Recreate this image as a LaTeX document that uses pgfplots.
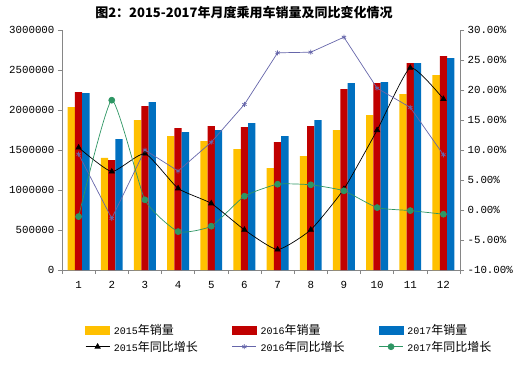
\documentclass[border=0pt]{standalone}
\usepackage{fontspec}
\setmainfont{Noto Sans CJK SC}
\newfontfamily\tickfont{Liberation Mono}
\usepackage{pgfplots}
\pgfplotsset{compat=1.18}
\definecolor{c15}{RGB}{255,192,0}
\definecolor{c16}{RGB}{192,0,0}
\definecolor{c17}{RGB}{0,112,192}
\definecolor{l16}{RGB}{102,102,170}
\definecolor{l17}{RGB}{46,150,100}
\definecolor{axg}{RGB}{134,134,134}
\newcommand{\lgt}[2]{{\fontsize{10}{12}\tickfont #1}{\fontsize{12}{14}\selectfont #2}}
\begin{document}
\begin{tikzpicture}
\pgfplotsset{
  base/.style={
    width=398pt, height=240pt, scale only axis,
    xmin=0.5, xmax=12.5,
    tick align=outside, major tick length=4pt,
    every tick/.style={axg, line width=0.6pt},
    axis line style={axg, line width=0.8pt},
    tick label style={font=\fontsize{10.8}{12}\tickfont},
    /pgf/number format/assume math mode=true,
  }
}
\begin{axis}[base, name=ax1,
  ymin=0, ymax=3000000,
  ytick={0,500000,1000000,1500000,2000000,2500000,3000000},
  scaled y ticks=false,
  yticklabel style={/pgf/number format/fixed, /pgf/number format/1000 sep={}},
  axis x line*=bottom, axis y line*=left,
  xtick={0.5,1.5,...,12.5}, x tick label as interval,
  xticklabels={1,2,3,4,5,6,7,8,9,10,11,12},
  xticklabel style={yshift=-4pt},
  ybar=0pt, bar width=7.3pt,
  title={\fontsize{13}{15}\selectfont\bfseries 图2：2015-2017年月度乘用车销量及同比变化情况},
  title style={at={(0.457,1)}, anchor=center, yshift=11pt, inner sep=0pt},
]
\addplot[fill=c15, draw=none] coordinates {(1,2037500)(2,1403000)(3,1875000)(4,1675000)(5,1612500)(6,1512500)(7,1275000)(8,1425000)(9,1750000)(10,1937500)(11,2200000)(12,2437500)};
\addplot[fill=c16, draw=none] coordinates {(1,2225000)(2,1375000)(3,2050000)(4,1775000)(5,1800000)(6,1787500)(7,1600000)(8,1800000)(9,2262500)(10,2337500)(11,2587500)(12,2675000)};
\addplot[fill=c17, draw=none] coordinates {(1,2212500)(2,1637500)(3,2100000)(4,1725000)(5,1750000)(6,1837500)(7,1675000)(8,1875000)(9,2337500)(10,2350000)(11,2587500)(12,2650000)};
\end{axis}
\begin{axis}[base,
  ymin=-10, ymax=30, ytick={-10,-5,...,30},
  yticklabel={\pgfmathprintnumber[fixed,fixed zerofill,precision=2]{\tick}\%},
  axis y line*=right, axis x line=none,
  legend columns=3,
  legend style={at={(0.058,-0.217)}, anchor=north west, draw=none, fill=none, inner sep=0pt,
    /tikz/every even column/.append style={column sep=32pt},
    /tikz/every odd column/.append style={column sep=2pt},
    row sep=1pt},
  legend cell align=left,
  legend image code/.code={\draw[mark repeat=2,mark phase=2,#1] plot coordinates {(0pt,0pt)(12pt,0pt)(24pt,0pt)};},
]
\addlegendimage{legend image code/.code={\fill[c15] (0pt,-4pt) rectangle (24pt,4pt);}}
\addlegendentry{\lgt{2015}{年销量}}
\addlegendimage{legend image code/.code={\fill[c16] (0pt,-4pt) rectangle (24pt,4pt);}}
\addlegendentry{\lgt{2016}{年销量}}
\addlegendimage{legend image code/.code={\fill[c17] (0pt,-4pt) rectangle (24pt,4pt);}}
\addlegendentry{\lgt{2017}{年销量}}
\addplot[black, line width=0.7pt, smooth, tension=0.3, mark=triangle*, mark size=3pt, mark options={solid}] coordinates {(1,10.4)(2,6.4)(3,9.4)(4,3.6)(5,1.1)(6,-3.3)(7,-6.6)(8,-3.3)(9,3.5)(10,13.3)(11,23.7)(12,18.5)};
\addlegendentry{\lgt{2015}{年同比增长}}
\addplot[l16, line width=0.7pt, mark=asterisk, mark size=2.5pt] coordinates {(1,9.3)(2,-1.4)(3,10.0)(4,6.5)(5,11.3)(6,17.6)(7,26.2)(8,26.3)(9,28.8)(10,20.3)(11,17.1)(12,9.2)};
\addlegendentry{\lgt{2016}{年同比增长}}
\addplot[l17, line width=0.7pt, smooth, tension=0.3, mark=*, mark size=3pt] coordinates {(1,-1.1)(2,18.3)(3,1.7)(4,-3.6)(5,-2.7)(6,2.3)(7,4.3)(8,4.2)(9,3.2)(10,0.4)(11,-0.1)(12,-0.7)};
\addlegendentry{\lgt{2017}{年同比增长}}
\end{axis}
\path ([shift={(-62pt,-94pt)}]ax1.south west) rectangle ([shift={(456pt,270pt)}]ax1.south west);
\end{tikzpicture}
\end{document}
